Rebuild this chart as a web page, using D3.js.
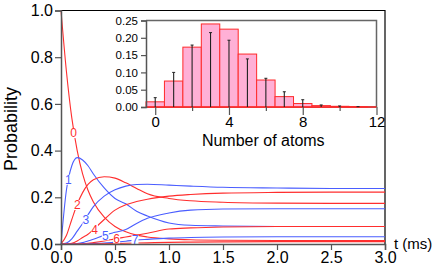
<!DOCTYPE html>
<html>
<head>
<meta charset="utf-8">
<script src="https://cdn.jsdelivr.net/npm/d3@7"></script>
<style>
  body { margin: 0; background: #fff; }
  svg { display: block; font-family: "Liberation Sans", Arial, sans-serif; }
</style>
</head>
<body>
<svg id="chart" width="436" height="270"></svg>
<script>
// time axis samples (ms)
var times = [0, 0.05, 0.1, 0.15, 0.2, 0.25, 0.3, 0.4, 0.5, 0.6, 0.7, 0.8, 1.0, 1.2, 1.5, 2.0, 2.5, 3.0];

// probability of n atoms vs time
var p0 = [1.00, 0.74, 0.54, 0.40, 0.30, 0.23, 0.18, 0.115, 0.075, 0.052, 0.038, 0.030, 0.022, 0.018, 0.016, 0.015, 0.015, 0.015];
var p1 = [0, 0.23, 0.335, 0.37, 0.36, 0.335, 0.30, 0.24, 0.195, 0.172, 0.14, 0.12, 0.09, 0.08, 0.077, 0.075, 0.075, 0.075];
var p2 = [0, 0.036, 0.105, 0.17, 0.22, 0.255, 0.275, 0.288, 0.282, 0.262, 0.238, 0.215, 0.195, 0.185, 0.179, 0.175, 0.174, 0.174];
var p3 = [0, 0.004, 0.022, 0.055, 0.088, 0.125, 0.16, 0.205, 0.232, 0.248, 0.255, 0.256, 0.252, 0.248, 0.243, 0.24, 0.238, 0.238];
var p4 = [0, 0, 0.003, 0.013, 0.028, 0.042, 0.062, 0.105, 0.145, 0.168, 0.182, 0.192, 0.205, 0.212, 0.218, 0.221, 0.222, 0.222];
var p5 = [0, 0, 0, 0.002, 0.006, 0.013, 0.02, 0.037, 0.05, 0.062, 0.088, 0.11, 0.133, 0.145, 0.15, 0.151, 0.151, 0.151];
var p6 = [0, 0, 0, 0, 0.001, 0.003, 0.006, 0.013, 0.022, 0.03, 0.038, 0.046, 0.064, 0.069, 0.073, 0.075, 0.075, 0.075];
var p7 = [0, 0, 0, 0, 0, 0.001, 0.002, 0.004, 0.008, 0.012, 0.017, 0.02, 0.025, 0.028, 0.03, 0.031, 0.031, 0.031];
var p8 = [0, 0, 0, 0, 0, 0, 0, 0.001, 0.002, 0.003, 0.004, 0.005, 0.007, 0.008, 0.009, 0.01, 0.01, 0.01];
var curves = [p0, p1, p2, p3, p4, p5, p6, p7, p8];

// where each curve number sits (t, p)
var labelT = [0.116, 0.068, 0.151, 0.231, 0.31, 0.41, 0.515, 0.685];
var labelP = [0.475, 0.275, 0.167, 0.103, 0.063, 0.037, 0.024, 0.017];

// inset histogram: steady state atom number
var atoms = [0, 1, 2, 3, 4, 5, 6, 7, 8, 9, 10, 11];
var histP = [0.015, 0.075, 0.173, 0.240, 0.225, 0.153, 0.078, 0.030, 0.010, 0.004, 0.002, 0.001];
var errTop = [0.027, 0.10, 0.179, 0.215, 0.193, 0.139, 0.083, 0.044, 0.021, 0.006, 0.003, 0.001];

var red = "#ff2e2e", blue = "#4a5dff", axisCol = "#555";

var svg = d3.select("#chart");

var x = d3.scaleLinear().domain([0, 3]).range([61, 385]);
var y = d3.scaleLinear().domain([0, 1]).range([244, 10.5]);

// frame top and right
svg.append("path")
    .attr("d", "M" + x(0) + "," + y(1) + "H" + x(3) + "V" + y(0))
    .attr("fill", "none").attr("stroke", "#000").attr("stroke-width", 1.2);

// curves
var line = d3.line()
    .x(function(d) { return x(d[0]); })
    .y(function(d) { return y(d[1]); })
    .curve(d3.curveMonotoneX);

svg.selectAll("path.curve")
    .data(curves)
    .enter()
    .append("path")
    .attr("class", "curve")
    .attr("d", function(c) { return line(times.map(function(t, i) { return [t, c[i]]; })); })
    .attr("fill", "none")
    .attr("stroke", function(c, i) { return i % 2 ? blue : red; })
    .attr("stroke-width", 1.1);

// curve number labels with white knock-out
var lab = svg.selectAll("g.lab")
    .data(labelT)
    .enter()
    .append("g")
    .attr("class", "lab")
    .attr("transform", function(d, i) { return "translate(" + x(d) + "," + y(labelP[i]) + ")"; });
lab.append("rect")
    .attr("x", -3.5).attr("y", -5).attr("width", 7).attr("height", 10)
    .attr("fill", "#fff");
lab.append("text")
    .attr("text-anchor", "middle")
    .attr("dy", "0.36em")
    .style("font-size", "12px")
    .style("fill", function(d, i) { return i % 2 ? blue : red; })
    .text(function(d, i) { return i; });

// main axes
var gx = svg.append("g")
    .attr("transform", "translate(0," + y(0) + ")")
    .call(d3.axisBottom(x).tickValues([0, 0.5, 1, 1.5, 2, 2.5, 3]).tickFormat(d3.format(".1f")).tickSize(6).tickPadding(2));
var gy = svg.append("g")
    .attr("transform", "translate(" + x(0) + ",0)")
    .call(d3.axisLeft(y).tickValues([0, 0.2, 0.4, 0.6, 0.8, 1]).tickFormat(d3.format(".1f")).tickSize(6).tickPadding(2));
[gx, gy].forEach(function(g) {
  g.select(".domain").attr("stroke", axisCol).attr("stroke-width", 1.5);
  g.selectAll(".tick line").attr("stroke", axisCol).attr("stroke-width", 1.2);
  g.selectAll(".tick text").style("font-size", "16px").style("font-family", "Liberation Sans, Arial, sans-serif").attr("fill", "#000");
});

svg.append("text")
    .attr("transform", "translate(17,129) rotate(-90)")
    .attr("text-anchor", "middle")
    .style("font-size", "18px")
    .text("Probability");

svg.append("text")
    .attr("x", 394).attr("y", 249)
    .style("font-size", "15px")
    .text("t (ms)");

// ---- inset ----
var xi = d3.scaleLinear().domain([-0.5, 12]).range([146, 376.5]);
var yi = d3.scaleLinear().domain([0, 0.25]).range([107, 20.5]);

svg.append("rect")
    .attr("x", xi(-0.5)).attr("y", yi(0.25))
    .attr("width", xi(12) - xi(-0.5)).attr("height", yi(0) - yi(0.25))
    .attr("fill", "#fff");

svg.append("path")
    .attr("d", "M" + xi(-0.5) + "," + yi(0.25) + "H" + xi(12) + "V" + yi(0))
    .attr("fill", "none").attr("stroke", "#666").attr("stroke-width", 1.5);

svg.append("line")
    .attr("x1", xi(-0.5)).attr("x2", xi(12))
    .attr("y1", yi(0)).attr("y2", yi(0))
    .attr("stroke", axisCol).attr("stroke-width", 1.5);

svg.selectAll("rect.bar")
    .data(atoms)
    .enter()
    .append("rect")
    .attr("class", "bar")
    .attr("x", function(d) { return xi(d - 0.5); })
    .attr("y", function(d, i) { return yi(histP[i]); })
    .attr("width", xi(1) - xi(0))
    .attr("height", function(d, i) { return yi(0) - yi(histP[i]); })
    .attr("fill", "#ffb0d6")
    .attr("stroke", "#ff2a2a")
    .attr("stroke-width", 1);

svg.append("line")
    .attr("x1", xi(-0.5)).attr("x2", xi(12))
    .attr("y1", yi(0)).attr("y2", yi(0))
    .attr("stroke", "#ff2a2a").attr("stroke-width", 1.5);

var eb = svg.selectAll("g.err")
    .data(atoms)
    .enter()
    .append("g")
    .attr("class", "err");
eb.append("line")
    .attr("x1", function(d) { return xi(d); }).attr("x2", function(d) { return xi(d); })
    .attr("y1", yi(0)).attr("y2", function(d, i) { return yi(errTop[i]); })
    .attr("stroke", "#222").attr("stroke-width", 1.1);
eb.append("line")
    .attr("x1", function(d) { return xi(d) - 1.5; }).attr("x2", function(d) { return xi(d) + 1.5; })
    .attr("y1", function(d, i) { return yi(errTop[i]); }).attr("y2", function(d, i) { return yi(errTop[i]); })
    .attr("stroke", "#222").attr("stroke-width", 1);

var gxi = svg.append("g")
    .attr("transform", "translate(0," + yi(0) + ")")
    .call(d3.axisBottom(xi).tickValues([0, 4, 8, 12]).tickFormat(d3.format("d")).tickSize(8).tickPadding(1));
svg.append("g")
    .attr("transform", "translate(0," + yi(0) + ")")
    .call(d3.axisBottom(xi).tickValues([2, 6, 10]).tickFormat("").tickSize(4))
    .call(function(g) { g.select(".domain").remove(); })
    .selectAll(".tick line").attr("stroke", axisCol).attr("stroke-width", 1.2);
gxi.select(".domain").remove();
gxi.selectAll(".tick line").attr("stroke", axisCol).attr("stroke-width", 1.2);
gxi.selectAll(".tick text").style("font-size", "15px").style("font-family", "Liberation Sans, Arial, sans-serif").attr("fill", "#000");

var gyi = svg.append("g")
    .attr("transform", "translate(" + xi(-0.5) + ",0)")
    .call(d3.axisLeft(yi).tickValues([0, 0.05, 0.1, 0.15, 0.2, 0.25]).tickFormat(d3.format(".2f")).tickSize(5).tickPadding(3));
gyi.select(".domain").attr("stroke", axisCol).attr("stroke-width", 1.5);
gyi.selectAll(".tick line").attr("stroke", axisCol).attr("stroke-width", 1.2);
gyi.selectAll(".tick text").style("font-size", "11.5px").style("font-family", "Liberation Sans, Arial, sans-serif").attr("fill", "#000");

svg.append("text")
    .attr("x", (xi(-0.5) + xi(12)) / 2 + 2).attr("y", 146)
    .attr("text-anchor", "middle")
    .style("font-size", "16px")
    .text("Number of atoms");
</script>
</body>
</html>
